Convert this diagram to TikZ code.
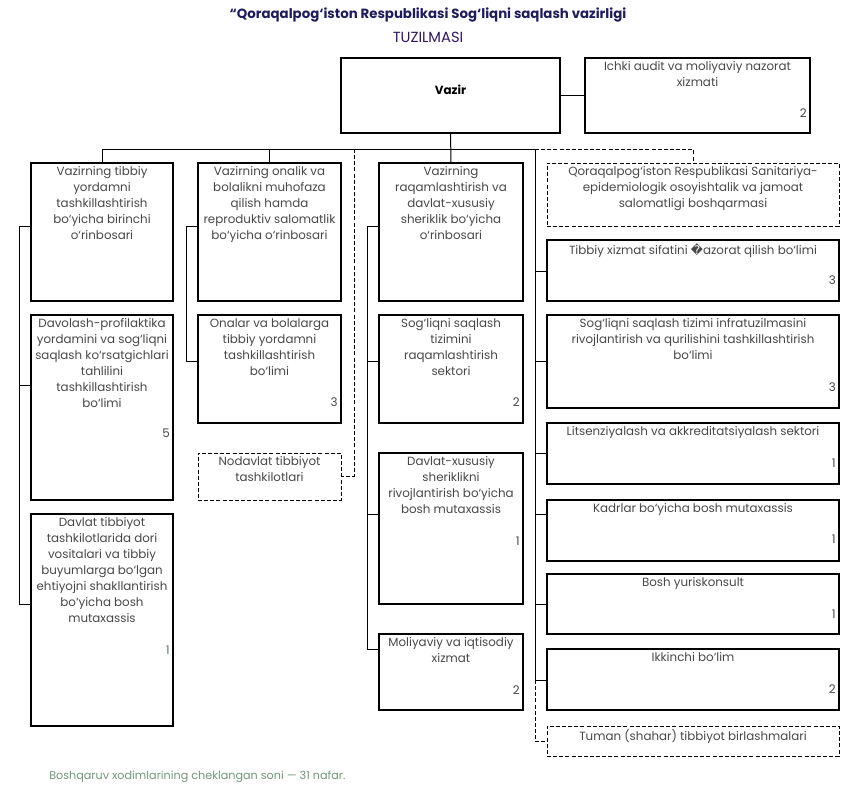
\documentclass[tikz,border=0pt]{standalone}
\usepackage{fontspec}
\setmainfont{Poppins}
\newfontfamily\dejavu{DejaVu Sans}
\usepackage{tikz}
\usetikzlibrary{positioning}
\definecolor{ink}{RGB}{72,72,72}
\definecolor{navy}{RGB}{30,28,92}
\definecolor{sage}{RGB}{112,152,120}

\begin{document}
\begin{tikzpicture}[x=0.75pt, y=-0.75pt, font=\fontsize{8.9}{12}\selectfont, text=ink,
 frame/.style n args={4}{draw=black, line width=.8pt, inner sep=0pt, minimum width={(#3-#1)*0.75pt}, minimum height={(#4-#2)*0.75pt}, at={({(#1+#3)/2},{(#2+#4)/2})}},
 dframe/.style n args={4}{frame={#1}{#2}{#3}{#4}, line width=.7pt, dash pattern=on 3pt off 1.6pt},
 txt/.style={align=center, inner sep=0pt},
 num/.style={anchor=east, inner sep=0pt},
 wire/.style={line width=.75pt},
 dwire/.style={wire, line width=.7pt, dash pattern=on 3pt off 1.6pt}]
\useasboundingbox (0,0) rectangle (855,785);

\node[font=\fontsize{10}{12}\selectfont\bfseries, text=navy] (title) at (428,15) {“Qoraqalpog‘iston Respublikasi Sog‘liqni saqlash vazirligi};
\node[font=\fontsize{11}{12}\selectfont, text=navy!80!violet] (sub) at (428,37) {TUZILMASI};

\node[frame={341}{58}{560}{133}] (vazir) {};
\node[txt, font=\fontsize{8.9}{12}\selectfont\bfseries, text=black] (vazirt) at (450.5,90) {Vazir};
\node[frame={585}{58}{810}{133}] (audit) {};
\node[txt, below=3pt of audit.north] (auditt) {Ichki audit va moliyaviy nazorat\\xizmati};
\node[num] (auditn) at (807,113) {2};

% o'rinbosarlar
\node[frame={31}{163}{173}{301}] (dep1) {};
\node[txt, below=3pt of dep1.north] (dep1t) {Vazirning tibbiy\\yordamni\\tashkillashtirish\\bo‘yicha birinchi\\o‘rinbosari};
\node[frame={198}{163}{341}{301}] (dep2) {};
\node[txt, below=3pt of dep2.north] (dep2t) {Vazirning onalik va\\bolalikni muhofaza\\qilish hamda\\reproduktiv salomatlik\\bo‘yicha o‘rinbosari};
\node[frame={379}{163}{523}{301}] (dep3) {};
\node[txt, below=3pt of dep3.north] (dep3t) {Vazirning\\raqamlashtirish va\\davlat-xususiy\\sheriklik bo‘yicha\\o‘rinbosari};
\node[dframe={547}{163}{839}{226}] (sanit) {};
\node[txt, below=3pt of sanit.north] (sanitt) {Qoraqalpog‘iston Respublikasi Sanitariya-\\epidemiologik osoyishtalik va jamoat\\salomatligi boshqarmasi};

% 1-ustun
\node[frame={31}{315}{173}{500}] (davol) {};
\node[txt, below=3pt of davol.north] (davolt) {Davolash-profilaktika\\yordamini va sog‘liqni\\saqlash ko‘rsatgichlari\\tahlilini\\tashkillashtirish\\bo‘limi};
\node[num] (davoln) at (170,433) {5};
\node[frame={31}{514}{173}{726}] (dori) {};
\node[txt, below=3pt of dori.north] (dorit) {Davlat tibbiyot\\tashkilotlarida dori\\vositalari va tibbiy\\buyumlarga bo‘lgan\\ehtiyojni shakllantirish\\bo‘yicha bosh\\mutaxassis};
\node[num, text=sage!80!black] (dorin) at (170,650) {1};

% 2-ustun
\node[frame={198}{315}{341}{423}] (onalar) {};
\node[txt, below=3pt of onalar.north] (onalart) {Onalar va bolalarga\\tibbiy yordamni\\tashkillashtirish\\bo‘limi};
\node[num] (onalarn) at (338,402) {3};
\node[dframe={198}{453}{341}{500}] (nodav) {};
\node[txt, below=3pt of nodav.north] (nodavt) {Nodavlat tibbiyot\\tashkilotlari};

% 3-ustun
\node[frame={379}{315}{523}{423}] (raqam) {};
\node[txt, below=3pt of raqam.north] (raqamt) {Sog‘liqni saqlash\\tizimini\\raqamlashtirish\\sektori};
\node[num] (raqamn) at (520,402) {2};
\node[frame={379}{453}{523}{604}] (dxs) {};
\node[txt, below=3pt of dxs.north] (dxst) {Davlat-xususiy\\sheriklikni\\rivojlantirish bo‘yicha\\bosh mutaxassis};
\node[num] (dxsn) at (520,541) {1};
\node[frame={379}{634}{523}{710}] (moliya) {};
\node[txt, below=3pt of moliya.north] (moliyat) {Moliyaviy va iqtisodiy\\xizmat};
\node[num] (moliyan) at (520,690) {2};

% 4-ustun
\node[frame={547}{240}{839}{301}] (sifat) {};
\node[txt, below=3pt of sifat.north] (sifatt) {Tibbiy xizmat sifatini {\dejavu �}azorat qilish bo‘limi};
\node[num] (sifatn) at (836,280) {3};
\node[frame={547}{315}{839}{408}] (infra) {};
\node[txt, below=3pt of infra.north] (infrat) {Sog‘liqni saqlash tizimi infratuzilmasini\\rivojlantirish va qurilishini tashkillashtirish\\bo‘limi};
\node[num] (infran) at (836,387) {3};
\node[frame={547}{423}{839}{484}] (lits) {};
\node[txt, below=3pt of lits.north] (litst) {Litsenziyalash va akkreditatsiyalash sektori};
\node[num] (litsn) at (836,463) {1};
\node[frame={547}{500}{839}{561}] (kadr) {};
\node[txt, below=3pt of kadr.north] (kadrt) {Kadrlar bo‘yicha bosh mutaxassis};
\node[num] (kadrn) at (836,539) {1};
\node[frame={547}{574}{839}{634}] (yurist) {};
\node[txt, below=3pt of yurist.north] (yuristt) {Bosh yuriskonsult};
\node[num] (yuristn) at (836,614) {1};
\node[frame={547}{649}{839}{710}] (ikk) {};
\node[txt, below=3pt of ikk.north] (ikkt) {Ikkinchi bo‘lim};
\node[num] (ikkn) at (836,689) {2};
\node[dframe={547}{726}{839}{756}] (tuman) {};
\node[txt, below=3pt of tuman.north] (tumant) {Tuman (shahar) tibbiyot birlashmalari};

\node[anchor=west, inner sep=0pt, font=\fontsize{8.4}{10}\selectfont, text=sage] (izoh) at (49,777) {Boshqaruv xodimlarining cheklangan soni — 31 nafar.};

% bog'lanishlar
\coordinate (bus) at (535,149);
\coordinate (ngo) at (354,149);
\coordinate (a1) at (19,226); \coordinate (a2) at (19,385); \coordinate (a3) at (19,604);
\coordinate (b1) at (186,226); \coordinate (b2) at (186,361);
\coordinate (c1) at (367,226); \coordinate (c2) at (367,361); \coordinate (c3) at (367,514); \coordinate (c4) at (367,649);
\coordinate (d1) at (535,271); \coordinate (d2) at (535,361); \coordinate (d3) at (535,453);
\coordinate (d4) at (535,514); \coordinate (d5) at (535,604); \coordinate (d6) at (535,680);

\draw[wire] (vazir.east |- audit.west) -- (audit.west);
\draw[wire] (vazir.south) -- (dep3.north);
\draw[wire] (dep1.north) |- (bus) -- (d6) -- (d6 -| ikk.west);
\draw[wire] (dep2.north) -- (dep2.north |- bus);
\draw[dwire] (bus) -| (sanit.north);
\draw[dwire] (ngo) |- (nodav.east);
\draw[dwire] (d6) |- (tuman.west);

\draw[wire] (a1 -| dep1.west) -- (a1) -- (a3) -- (a3 -| dori.west);
\draw[wire] (a2) -- (a2 -| davol.west);
\draw[wire] (b1 -| dep2.west) -- (b1) -- (b2) -- (b2 -| onalar.west);
\draw[wire] (c1 -| dep3.west) -- (c1) -- (c4) -- (c4 -| moliya.west);
\draw[wire] (c2) -- (c2 -| raqam.west);
\draw[wire] (c3) -- (c3 -| dxs.west);
\draw[wire] (d1) -- (d1 -| sifat.west);
\draw[wire] (d2) -- (d2 -| infra.west);
\draw[wire] (d3) -- (d3 -| lits.west);
\draw[wire] (d4) -- (d4 -| kadr.west);
\draw[wire] (d5) -- (d5 -| yurist.west);
\end{tikzpicture}
\end{document}
